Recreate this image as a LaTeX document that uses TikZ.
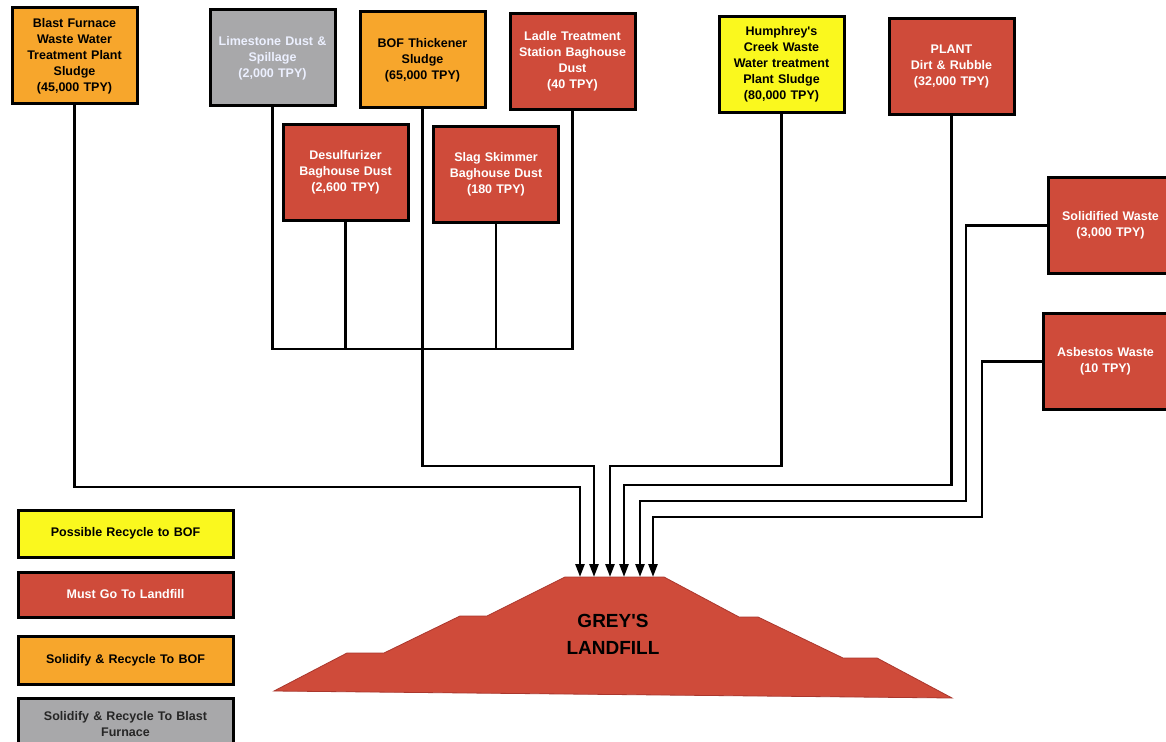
\documentclass[tikz,border=0pt]{standalone}
\usepackage{fontspec}
\setmainfont{Liberation Sans}
\usetikzlibrary{arrows.meta}
\definecolor{boxorange}{RGB}{247,166,44}
\definecolor{boxred}{RGB}{207,75,58}
\definecolor{boxyellow}{RGB}{250,248,30}
\definecolor{boxgrey}{RGB}{168,168,170}
\definecolor{edgered}{RGB}{170,55,45}
\definecolor{paletext}{RGB}{236,240,255}
\begin{document}
\begin{tikzpicture}[x=1pt,y=-1pt,
  wbox/.style={draw=black, line width=3pt, minimum width=125pt, minimum height=96pt,
    text width=119pt, inner sep=3pt, align=center,
    font=\bfseries\fontsize{12.5}{16}\selectfont},
  orangebox/.style={wbox, fill=boxorange, text=black},
  redbox/.style={wbox, fill=boxred, text=white},
  yellowbox/.style={wbox, fill=boxyellow, text=black},
  greybox/.style={wbox, fill=boxgrey, text=paletext},
  legend/.style={draw=black, line width=3pt, minimum width=215pt, text width=209pt,
    inner sep=3pt, align=center, font=\bfseries\fontsize{12.5}{16}\selectfont},
  conn/.style={line width=2.5pt, draw=black},
  arr/.style={conn, -{Triangle[length=13pt,width=9pt]}}
]
\useasboundingbox (0,0) rectangle (1166,741);
\fill[white] (0,0) rectangle (1166,741);

% source boxes
\node[orangebox] (bf) at (74.5,56) {Blast Furnace\\Waste Water\\Treatment Plant\\Sludge\\(45,000 TPY)};
\node[greybox] (ls) at (272.5,58) {Limestone Dust \&\\Spillage\\(2,000 TPY)};
\node[orangebox] (bof) at (422.5,60) {BOF Thickener\\Sludge\\(65,000 TPY)};
\node[redbox] (ld) at (572.5,61.5) {Ladle Treatment\\Station Baghouse\\Dust\\(40 TPY)};
\node[yellowbox] (hc) at (781.5,64.5) {Humphrey\textquotesingle s\\Creek Waste\\Water treatment\\Plant Sludge\\(80,000 TPY)};
\node[redbox] (pl) at (951.5,66.5) {PLANT\\Dirt \& Rubble\\(32,000 TPY)};
\node[redbox] (ds) at (345.5,172.5) {Desulfurizer\\Baghouse Dust\\(2,600 TPY)};
\node[redbox] (sl) at (496,174.5) {Slag Skimmer\\Baghouse Dust\\(180 TPY)};
\node[redbox] (sw) at (1110.5,225.5) {Solidified Waste\\(3,000 TPY)};
\node[redbox] (as) at (1105.5,361.5) {Asbestos Waste\\(10 TPY)};

% legend
\node[legend, fill=boxyellow, text=black, minimum height=47pt] (l1) at (125.5,533.5) {Possible Recycle to BOF};
\node[legend, fill=boxred, text=white, minimum height=45pt] (l2) at (125.5,594.5) {Must Go To Landfill};
\node[legend, fill=boxorange, text=black, minimum height=48pt] (l3) at (125.5,660) {Solidify \& Recycle To BOF};
\node[legend, fill=boxgrey, text=black!85, minimum height=52pt] (l4) at (125.5,724) {Solidify \& Recycle To Blast\\Furnace};

% landfill
\filldraw[fill=boxred, draw=edgered, line width=0.8pt]
  (274,691) -- (347,653) -- (384,653) -- (460,616) -- (487,616) -- (565,577)
  -- (664,577) -- (739,617) -- (758,617) -- (843,658) -- (877,658) -- (952,698) -- cycle;
\node[font=\bfseries\fontsize{19}{27}\selectfont, align=center, text=black] (lf) at (613,634) {GREY\textquotesingle S\\LANDFILL};

% arrow tips on landfill top
\coordinate (t1) at (580,577);
\coordinate (t2) at (594,577);
\coordinate (t3) at (610,577);
\coordinate (t4) at (624,577);
\coordinate (t5) at (640,577);
\coordinate (t6) at (653,577);
% bend points
\coordinate (b1) at (580,487);
\coordinate (b2) at (594,466);
\coordinate (b3) at (610,466);
\coordinate (b4) at (624,485);
\coordinate (b5) at (640,501);
\coordinate (b6) at (653,517);
\coordinate (c5) at (966,501);
\coordinate (c6) at (982,517);
\coordinate (bus) at (422.5,349);

% collector bus
\draw[conn] (ls.south) |- (bus) -| (ld.south);
\draw[conn] (ds.south) -- (ds.south |- bus);
\draw[conn] (sl.south) -- (sl.south |- bus);

% connectors to landfill
\draw[arr] (bf.south) |- (b1) -- (t1);
\draw[arr] (bof.south) |- (b2) -- (t2);
\draw[arr] (hc.south) |- (b3) -- (t3);
\draw[arr] (pl.south) |- (b4) -- (t4);
\draw[arr] (sw.west) -| (c5) -- (b5) -- (t5);
\draw[arr] (as.west) -| (c6) -- (b6) -- (t6);
\end{tikzpicture}
\end{document}
